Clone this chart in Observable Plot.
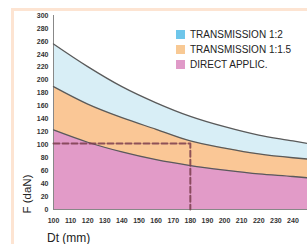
<!DOCTYPE html>
<html>
<head>
<meta charset="utf-8">
<script src="https://cdn.jsdelivr.net/npm/d3@7"></script>
<script src="https://cdn.jsdelivr.net/npm/@observablehq/plot@0.6"></script>
<style>
  html, body { margin: 0; padding: 0; background: #fff; }
  #wrap { position: relative; width: 307px; height: 244px; overflow: hidden; font-family: "Liberation Sans", Arial, sans-serif; }
  #frame { position: absolute; left: 11px; top: 8px; right: -10px; bottom: -10px; border-top: 3px solid #fde4d2; border-left: 3px solid #fde4d2; }
  #chart { position: absolute; left: 0; top: 0; }
  .legend { position: absolute; left: 176px; top: 27px; font-size: 10px; color: #222; }
  .legend .row { display: flex; align-items: center; height: 15px; }
  .legend .sw { width: 9px; height: 9px; margin-right: 5px; }
  .xlabel { position: absolute; left: 47px; top: 231px; font-size: 12px; color: #222; }
  .ylabel { position: absolute; left: 27px; top: 194px; font-size: 11.5px; color: #222; transform: translate(-50%, -50%) rotate(-90deg); white-space: nowrap; }
</style>
</head>
<body>
<div id="wrap">
  <div id="frame"></div>
  <div id="chart"></div>
  <div class="legend" id="legend"></div>
  <div class="xlabel">Dt (mm)</div>
  <div class="ylabel">F (daN)</div>
</div>
<script>
// Data
const dt      = [100, 120, 140, 160, 180, 200, 220, 240, 248.5];
const t12     = [256, 221, 190, 165, 144, 128, 115, 106, 102];   // TRANSMISSION 1:2
const t115    = [190, 163, 142, 124, 106,  95,  86,  80,  78];   // TRANSMISSION 1:1.5
const direct  = [123, 104,  89,  77,  68,  61,  55,  51,  49];   // DIRECT APPLIC.
const seriesNames = ["TRANSMISSION 1:2", "TRANSMISSION 1:1.5", "DIRECT APPLIC."];
const swatchColors = ["#6ec6ea", "#f8c994", "#e09ac8"];
const areaColors = ["#d8eef6", "#fac796", "#e29bc8"];
const xTicks = [100,110,120,130,140,150,160,170,180,190,200,210,220,230,240];
const yTicks = [0,20,40,60,80,100,120,140,160,180,200,220,240,260,280,300];
const refDt = 180;
const refF = 102;

const seriesValues = [t12, t115, direct];
const rows = seriesValues.map((vals, s) => dt.map((x, i) => ({x, y: vals[i], s})));
const refPath = [{x: dt[0], y: refF}, {x: refDt, y: refF}, {x: refDt, y: 0}];

const plot = Plot.plot({
  width: 307,
  height: 244,
  marginTop: 15,
  marginBottom: 35,
  marginLeft: 53,
  marginRight: 0,
  style: {background: "transparent", fontFamily: "Liberation Sans, Arial, sans-serif"},
  x: {domain: [100, 248.5], ticks: xTicks, tickFormat: d => d, label: null},
  y: {domain: [0, 300], ticks: yTicks, label: null},
  marks: [
    ...rows.map((r, s) => Plot.areaY(r, {x: "x", y: "y", fill: areaColors[s], curve: "monotone-x"})),
    Plot.ruleX([dt[0]], {y1: 0, y2: 300, stroke: "#888", strokeWidth: 1}),
    Plot.ruleY([0], {stroke: "#888", strokeWidth: 1}),
    ...rows.map((r) => Plot.line(r, {x: "x", y: "y", stroke: "#5a5a5a", strokeWidth: 1.3, curve: "monotone-x"})),
    Plot.line(refPath, {x: "x", y: "y", stroke: "#7a3c4c", strokeOpacity: 0.85, strokeWidth: 2, strokeDasharray: "6,3"}),
    Plot.axisY({ticks: yTicks, tickSize: 0, tickPadding: 5, fontSize: 7, fontWeight: "bold", fill: "#333", label: null}),
    Plot.axisX({ticks: xTicks, tickSize: 0, tickPadding: 9, fontSize: 7, fontWeight: "bold", fill: "#333", label: null})
  ]
});
document.getElementById("chart").appendChild(plot);

const legend = document.getElementById("legend");
seriesNames.forEach((name, i) => {
  const row = document.createElement("div");
  row.className = "row";
  const sw = document.createElement("div");
  sw.className = "sw";
  sw.style.background = swatchColors[i];
  const t = document.createElement("span");
  t.textContent = name;
  row.appendChild(sw);
  row.appendChild(t);
  legend.appendChild(row);
});
</script>
</body>
</html>
